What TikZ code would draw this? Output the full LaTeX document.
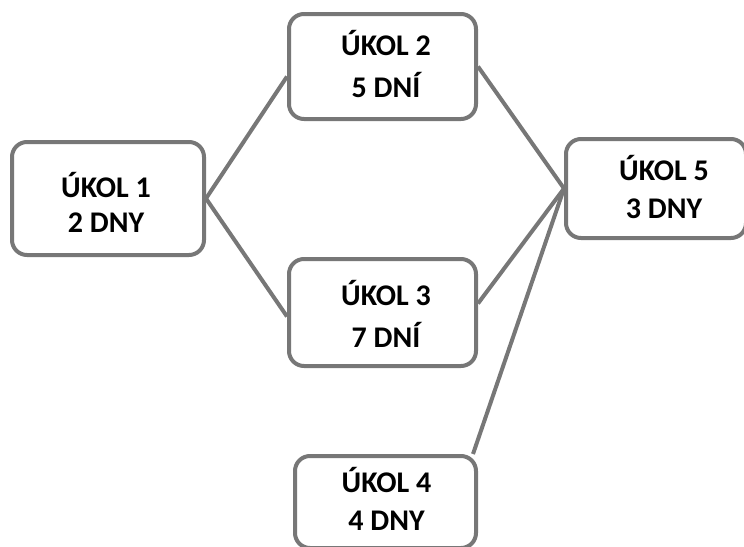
\documentclass[tikz,border=0pt]{standalone}
\usepackage{fontspec}
\setmainfont{Carlito}
\usetikzlibrary{calc}

\definecolor{edgegray}{HTML}{777777}

\tikzset{
  taskbox/.style={draw=edgegray, line width=4pt, rounded corners=15pt,
    fill=white, inner sep=0pt},
  tasktext/.style={font=\bfseries\fontsize{30}{35}\selectfont, anchor=base,
    inner sep=0pt},
  link/.style={draw=edgegray, line width=4pt}
}

\begin{document}
\begin{tikzpicture}[x=1pt, y=-1pt]
  \useasboundingbox (0,0) rectangle (744,546);

  % task boxes
  \node[taskbox, minimum width=192pt, minimum height=113pt] (b1) at (108,198.5) {};
  \node[taskbox, minimum width=187pt, minimum height=105pt] (b2) at (382.5,66.5) {};
  \node[taskbox, minimum width=187pt, minimum height=107pt] (b3) at (382.5,312.5) {};
  \node[taskbox, minimum width=181pt, minimum height=92pt]  (b4) at (385.5,502) {};
  \node[taskbox, minimum width=180pt, minimum height=99pt]  (b5) at (656,188.5) {};

  % dependencies
  \draw[link] (b1.east) -- ($(b2.west)+(0,10)$);
  \draw[link] (b1.east) -- ($(b3.west)+(0,4)$);
  \draw[link] (b2.east) -- (b5.west);
  \draw[link] ($(b3.east)+(0,-9)$) -- (b5.west);
  \draw[link] ($(b4.north east)+(-5,0)$) -- (b5.west);

  % labels
  \node[tasktext] (t1a) at (106,197) {ÚKOL 1};
  \node[tasktext] (t1b) at (106,232) {2 DNY};
  \node[tasktext] (t2a) at (386,55) {ÚKOL 2};
  \node[tasktext] (t2b) at (386,97) {5 DNÍ};
  \node[tasktext] (t3a) at (386,305) {ÚKOL 3};
  \node[tasktext] (t3b) at (386,347) {7 DNÍ};
  \node[tasktext] (t4a) at (386.5,492) {ÚKOL 4};
  \node[tasktext] (t4b) at (386.5,530) {4 DNY};
  \node[tasktext] (t5a) at (664,180) {ÚKOL 5};
  \node[tasktext] (t5b) at (664,218) {3 DNY};
\end{tikzpicture}
\end{document}
